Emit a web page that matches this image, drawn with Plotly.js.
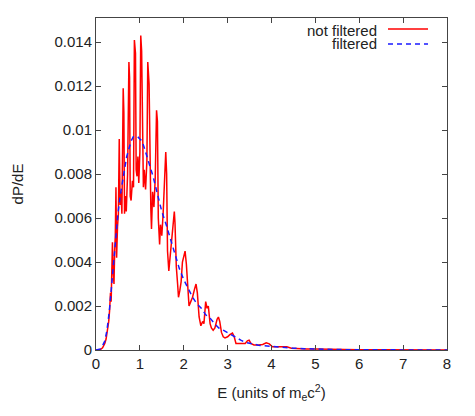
<!DOCTYPE html>
<html>
<head>
<meta charset="utf-8">
<script src="https://cdn.plot.ly/plotly-3.0.1.min.js"></script>
<style>html,body{margin:0;padding:0;background:#fff;}#chart{width:475px;height:416px;}</style>
</head>
<body>
<div id="chart"></div>
<script>
// Energy grid and values for the unfiltered spectrum
const eRaw = [0.00,0.05,0.10,0.15,0.20,0.23,0.26,0.29,0.31,0.33,0.345,0.36,0.375,0.39,0.41,0.425,0.44,0.455,0.47,0.49,
  0.51,0.53,0.55,0.57,0.59,0.62,0.635,0.65,0.67,0.69,0.72,0.75,0.765,0.78,0.80,0.83,0.855,0.875,0.90,0.915,
  0.935,0.955,0.975,1.00,1.02,1.04,1.06,1.08,1.10,1.13,1.16,1.18,1.21,1.23,1.25,1.265,1.29,1.32,1.35,1.38,
  1.40,1.42,1.45,1.47,1.50,1.53,1.56,1.59,1.61,1.63,1.66,1.69,1.72,1.76,1.785,1.80,1.83,1.86,1.88,1.91,
  1.94,1.97,2.00,2.03,2.06,2.09,2.12,2.16,2.20,2.25,2.28,2.31,2.35,2.39,2.43,2.46,2.50,2.53,2.56,2.60,
  2.63,2.67,2.71,2.76,2.79,2.82,2.86,2.90,2.94,3.00,3.05,3.11,3.15,3.19,3.25,3.32,3.40,3.45,3.49,3.53,
  3.60,3.70,3.80,3.88,3.95,4.02,4.15,4.25,4.35,4.45,4.6,4.8,5.0,5.3,5.6,6.0,6.5,7.0,7.5,8.0];
const pRaw = [0,0,0.00002,0.0001,0.0003,0.0005,0.0009,0.0013,0.0018,0.0026,0.0022,0.0038,0.0049,0.0036,0.0030,0.0045,0.0052,0.0074,0.0042,0.0056,
  0.0062,0.0096,0.0066,0.0072,0.0062,0.0119,0.0108,0.0062,0.0070,0.0063,0.0080,0.0131,0.0124,0.0070,0.0068,0.0077,0.0074,0.0141,0.0135,0.0082,
  0.0079,0.0088,0.0076,0.0090,0.0143,0.0136,0.0083,0.0074,0.0082,0.0073,0.0086,0.0131,0.0121,0.0080,0.0064,0.0055,0.0072,0.0065,0.0078,0.0109,
  0.0104,0.0060,0.0048,0.0057,0.0052,0.0062,0.0075,0.0090,0.0080,0.0045,0.0036,0.0043,0.0048,0.0059,0.0063,0.0058,0.0038,0.0030,0.0024,0.0027,
  0.0031,0.0040,0.0042,0.0045,0.0039,0.0026,0.0020,0.0022,0.0024,0.0028,0.0030,0.0026,0.0015,0.0011,0.0013,0.0012,0.0022,0.0019,0.0020,0.0012,
  0.0010,0.0009,0.0010,0.0014,0.0015,0.0013,0.0008,0.0006,0.00055,0.0006,0.0007,0.00077,0.0006,0.0003,0.0003,0.0003,0.0003,0.00042,0.00045,0.0003,
  0.00023,0.00023,0.00025,0.00033,0.00028,0.00015,0.00015,0.00018,0.00015,0.00008,0.00006,0.00005,0.00005,0.00003,0.00002,0.00001,0.00001,0,0,0];

// Filtered spectrum
const eFilt = [0,0.05,0.1,0.15,0.2,0.25,0.3,0.35,0.4,0.45,0.5,0.55,0.6,0.65,0.7,0.75,0.8,0.85,0.9,0.95,
  1.0,1.05,1.1,1.15,1.2,1.25,1.3,1.35,1.4,1.45,1.5,1.6,1.7,1.8,1.9,2.0,2.1,2.2,2.3,2.4,
  2.5,2.6,2.7,2.8,2.9,3.0,3.1,3.2,3.3,3.4,3.5,3.6,3.7,3.8,3.9,4.0,4.25,4.5,4.75,5.0,5.5,6.0,7.0,8.0];
const pFilt = [0,0.00001,0.00005,0.0002,0.0004,0.0009,0.0017,0.0028,0.0039,0.0052,0.0062,0.0070,0.0077,0.0082,0.0088,0.0092,0.0095,0.0097,0.0097,0.0097,
  0.0096,0.0095,0.0092,0.0089,0.0085,0.0082,0.0079,0.0075,0.0071,0.0067,0.0063,0.0057,0.0050,0.0043,0.0037,0.0032,0.0028,0.0024,0.0021,0.0019,
  0.0016,0.00145,0.0012,0.0010,0.0009,0.00078,0.0007,0.00055,0.00045,0.00035,0.0003,0.00025,0.00022,0.0002,0.00018,0.00016,0.00012,0.00008,0.00006,0.00004,0.00002,0.00001,0,0];

const xTicks = [0,1,2,3,4,5,6,7,8];
const yTicks = [0,0.002,0.004,0.006,0.008,0.01,0.012,0.014];
const yTickText = ['0','0.002','0.004','0.006','0.008','0.01','0.012','0.014'];
const seriesNames = ['not filtered','filtered'];

const FONT = 'Liberation Sans, Arial, sans-serif';
const RED = '#ff0000', BLUE = '#1a1aff';

const traces = [
  {x: eRaw, y: pRaw, type: 'scatter', mode: 'lines', name: seriesNames[0],
   line: {color: RED, width: 1.5}},
  {x: eFilt, y: pFilt, type: 'scatter', mode: 'lines', name: seriesNames[1],
   line: {color: BLUE, width: 1.5, dash: '5px,4px'}}
];

const axisCommon = {
  showline: true, linecolor: '#444', linewidth: 1, mirror: 'ticks',
  ticks: 'inside', ticklen: 5, tickcolor: '#444', tickwidth: 1,
  showgrid: false, zeroline: false,
  tickfont: {family: FONT, size: 15, color: '#222'}
};

const layout = {
  width: 475, height: 416,
  margin: {l: 96, r: 28, t: 18, b: 66, pad: 0},
  paper_bgcolor: '#fff', plot_bgcolor: '#fff',
  showlegend: false,
  font: {family: FONT, size: 15, color: '#222'},
  xaxis: Object.assign({}, axisCommon, {
    range: [0, 8], tickvals: xTicks, ticktext: xTicks.map(String),
    title: {text: 'E (units of m<sub>e</sub>c<sup>2</sup>)', font: {family: FONT, size: 15, color: '#222'}, standoff: 16}
  }),
  yaxis: Object.assign({}, axisCommon, {
    range: [0, 0.0151], tickvals: yTicks, ticktext: yTickText,
    title: {text: 'dP/dE', font: {family: FONT, size: 15, color: '#222'}, standoff: 27}
  }),
  annotations: [
    {xref: 'paper', yref: 'paper', x: (378-96)/351, y: (350-30)/332, xanchor: 'right', yanchor: 'middle',
     text: seriesNames[0], showarrow: false, borderpad: 0, font: {family: FONT, size: 15, color: '#222'}},
    {xref: 'paper', yref: 'paper', x: (378-96)/351, y: (350-44)/332, xanchor: 'right', yanchor: 'middle',
     text: seriesNames[1], showarrow: false, borderpad: 0, font: {family: FONT, size: 15, color: '#222'}}
  ],
  shapes: [
    {type: 'line', xref: 'paper', yref: 'paper', x0: (388-96)/351, x1: (428-96)/351,
     y0: (350-29)/332, y1: (350-29)/332, line: {color: RED, width: 1.5}},
    {type: 'line', xref: 'paper', yref: 'paper', x0: (388-96)/351, x1: (428-96)/351,
     y0: (350-44)/332, y1: (350-44)/332, line: {color: BLUE, width: 1.5, dash: '5px,4px'}}
  ]
};

Plotly.newPlot('chart', traces, layout, {staticPlot: true, displayModeBar: false});
</script>
</body>
</html>
